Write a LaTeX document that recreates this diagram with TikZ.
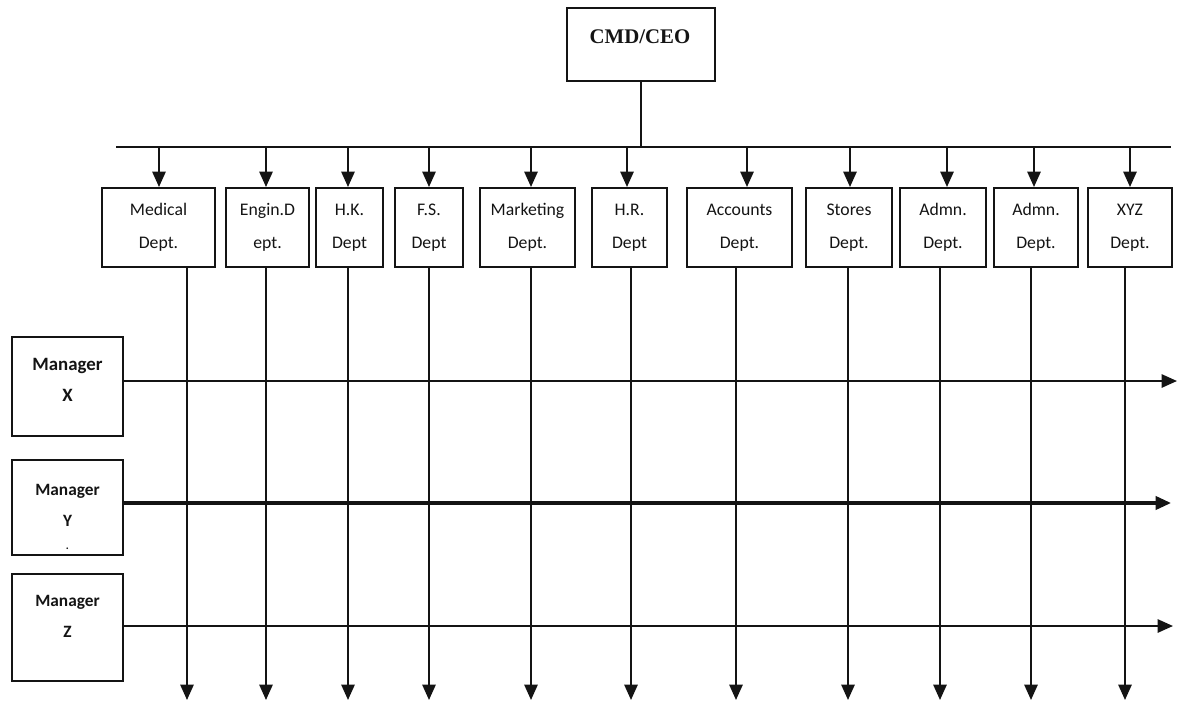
\documentclass[tikz,border=0pt]{standalone}
\usepackage{xcolor}
\usepackage{tikz}
\usepackage{fontspec}
\setmainfont{Liberation Serif}
\newfontfamily\orgsans{Carlito}
\usetikzlibrary{arrows.meta}
\definecolor{orgink}{HTML}{141414}

\begin{document}
\begin{tikzpicture}[x=0.025cm,y=-0.025cm,
  orgline/.style={draw=orgink,line width=1.4pt},
  flow/.style={orgline,-{Triangle[length=11pt,width=9.5pt]}},
  deptbox/.style={orgline,rectangle,inner sep=0pt,minimum height=1.975cm,align=center,
    font=\orgsans\fontsize{12.6}{23.5}\selectfont,text=orgink},
  mgrbox/.style={orgline,rectangle,inner sep=0pt,minimum width=2.775cm},
  mgrtext/.style={align=center,inner sep=0pt,text=orgink,
    font=\orgsans\bfseries\fontsize{12.3}{22}\selectfont}]
  \useasboundingbox (0,0) rectangle (1180,705);
  \node[orgline,rectangle,minimum width=3.7cm,minimum height=1.825cm] (ceo) at (641,44.5) {};
  \node[text=orgink,font=\bfseries\fontsize{14.8}{16}\selectfont] (ceo-t) at (640,37) {CMD/CEO};
  \coordinate (bus-l) at (116,147);
  \coordinate (bus-r) at (1171,147);
  \draw[orgline] (bus-l) -- (bus-r);
  \draw[orgline] (ceo.south) -- (ceo.south |- bus-l);
  \foreach \nm/\l/\r/\ax/\dx/\txt in {
      med/102/215/159/187/{Medical\\Dept.},
      eng/226/309/266/266/{Engin.D\\ept.},
      hk/316/383/348/348/{H.K.\\Dept},
      fs/395/463/429/429/{F.S.\\Dept},
      mkt/480/575/531/531/{Marketing\\Dept.},
      hr/592/667/627/631/{H.R.\\Dept},
      acc/687/792/747/736/{Accounts\\Dept.},
      sto/806/892/850/848/{Stores\\Dept.},
      adm/900/986/947/940/{Admn.\\Dept.},
      admb/994/1078/1034/1031/{Admn.\\Dept.},
      xyz/1088/1172/1130/1125/{XYZ\\Dept.}} {
    \node[deptbox,minimum width={(\r-\l)*0.025cm}] (\nm) at ({(\l+\r)/2},227.5) {\txt};
    \coordinate (\nm-in) at (\ax,147);
    \coordinate (\nm-out) at (\dx,700);
    \draw[flow] (\nm-in) -- (\nm-in |- \nm.north);
    \draw[flow] (\nm-out |- \nm.south) -- (\nm-out);
  }
  \node[mgrbox,minimum height=2.475cm] (mx) at (67.5,386.5) {};
  \node[mgrtext,font=\orgsans\bfseries\fontsize{13.4}{22}\selectfont] (mx-t) at (67.5,380) {Manager\\X};
  \node[mgrbox,minimum height=2.375cm] (my) at (67.5,507.5) {};
  \node[mgrtext] (my-t) at (67.5,517) {Manager\\Y\\[-6pt]{\footnotesize.}};
  \node[mgrbox,minimum height=2.675cm] (mz) at (67.5,627.5) {};
  \node[mgrtext] (mz-t) at (67.5,616) {Manager\\Z};
  \coordinate (mx-end) at (1177,381);
  \coordinate (my-end) at (1171,503);
  \coordinate (mz-end) at (1173,626);
  \draw[flow] (mx.east |- mx-end) -- (mx-end);
  \draw[flow,line width=2.2pt] (my.east |- my-end) -- (my-end);
  \draw[flow] (mz.east |- mz-end) -- (mz-end);
\end{tikzpicture}
\end{document}
